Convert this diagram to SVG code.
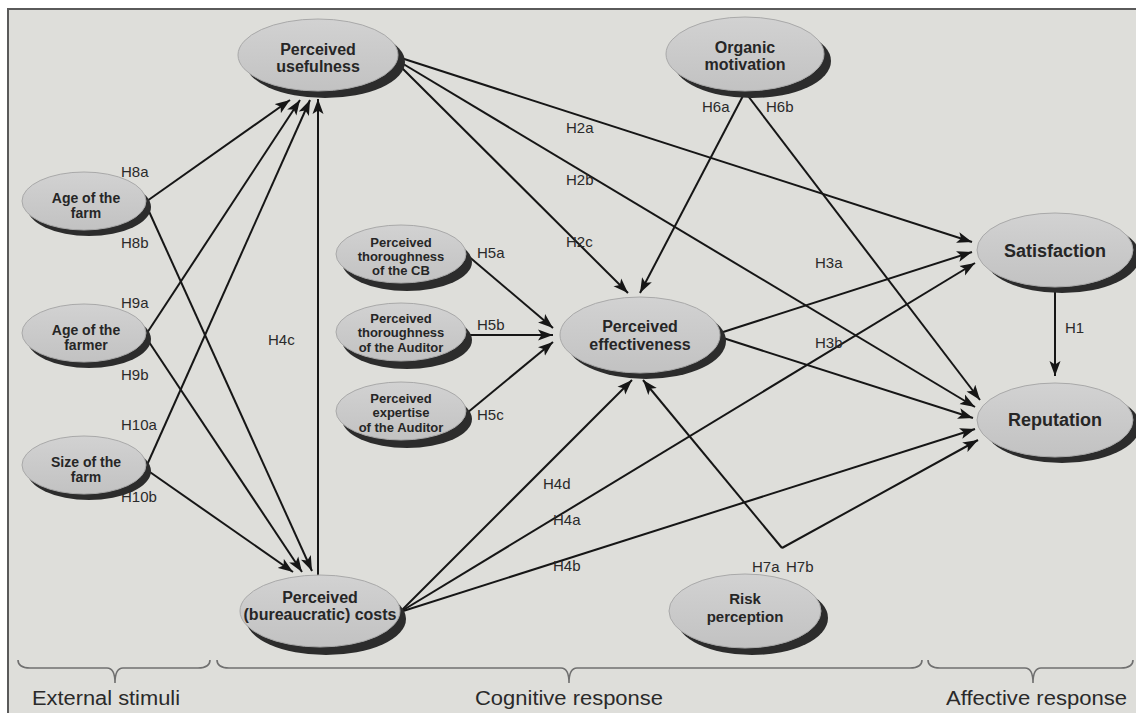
<svg xmlns="http://www.w3.org/2000/svg" width="1136" height="713" viewBox="0 0 1136 713">
  <defs>
    <marker id="arr" markerUnits="userSpaceOnUse" markerWidth="16" markerHeight="12" refX="15" refY="6" orient="auto">
      <path d="M0,0.5 L15,6 L0,11.5 L3.5,6 z" fill="#161616"/>
    </marker>
    <linearGradient id="fillG" x1="0" y1="0" x2="0" y2="1">
      <stop offset="0" stop-color="#d2d2d2"/>
      <stop offset="1" stop-color="#c2c2c2"/>
    </linearGradient>
  </defs>
  <style>
    .bg { fill: #dededa; stroke: #5a5a5a; stroke-width: 2; }
    .shadow { fill: #2c2c2c; }
    .oval { fill: url(#fillG); stroke: #a9a9a9; stroke-width: 1; }
    .n { font-family: "Liberation Sans", Arial, sans-serif; font-weight: bold; fill: #262626; text-anchor: middle; }
    .lbl { font-family: "Liberation Sans", Arial, sans-serif; font-size: 15px; fill: #2a2a2a; }
    .edge { stroke: #161616; stroke-width: 2; fill: none; }
    .arrow { marker-end: url(#arr); }
    .brace { stroke: #707070; stroke-width: 1.6; fill: none; }
    .zone { font-family: "Liberation Sans", Arial, sans-serif; font-size: 20px; fill: #2a2a2a; }
  </style>

  <!-- page -->
  <rect x="0" y="0" width="1136" height="713" fill="#ffffff"/>
  <rect class="bg" x="8" y="9" width="1140" height="712"/>

  <!-- connectors -->
  <g id="connectors">
    <!-- external stimuli to usefulness / costs -->
    <line class="edge arrow" x1="147" y1="201" x2="290" y2="100"/>
    <line class="edge arrow" x1="147" y1="207" x2="312" y2="571"/>
    <line class="edge arrow" x1="147" y1="333" x2="300" y2="100"/>
    <line class="edge arrow" x1="147" y1="339" x2="302" y2="572"/>
    <line class="edge arrow" x1="147" y1="465" x2="310" y2="100"/>
    <line class="edge arrow" x1="147" y1="470" x2="293" y2="572"/>
    <!-- costs to usefulness -->
    <line class="edge arrow" x1="318" y1="576" x2="318" y2="99"/>
    <!-- usefulness outcomes -->
    <line class="edge arrow" x1="398" y1="57" x2="972" y2="242"/>
    <line class="edge arrow" x1="400" y1="62" x2="975" y2="407"/>
    <line class="edge arrow" x1="402" y1="68" x2="628" y2="293"/>
    <!-- organic motivation -->
    <line class="edge arrow" x1="745" y1="92" x2="640" y2="293"/>
    <line class="edge arrow" x1="745" y1="92" x2="980" y2="400"/>
    <!-- thoroughness / expertise -->
    <line class="edge arrow" x1="467" y1="255" x2="553" y2="328"/>
    <line class="edge arrow" x1="467" y1="335" x2="553" y2="335"/>
    <line class="edge arrow" x1="467" y1="413" x2="553" y2="342"/>
    <!-- effectiveness outcomes -->
    <line class="edge arrow" x1="720" y1="333" x2="972" y2="252"/>
    <line class="edge arrow" x1="720" y1="337" x2="973" y2="418"/>
    <!-- costs outcomes -->
    <line class="edge arrow" x1="400" y1="612" x2="632" y2="380"/>
    <line class="edge arrow" x1="400" y1="612" x2="975" y2="263"/>
    <line class="edge arrow" x1="400" y1="612" x2="975" y2="429"/>
    <!-- risk perception -->
    <line class="edge arrow" x1="782" y1="548" x2="643" y2="380"/>
    <line class="edge arrow" x1="782" y1="548" x2="978" y2="440"/>
    <!-- satisfaction to reputation -->
    <line class="edge arrow" x1="1055" y1="288" x2="1055" y2="376"/>

    <text class="lbl" x="121" y="177">H8a</text>
    <text class="lbl" x="121" y="248">H8b</text>
    <text class="lbl" x="121" y="308">H9a</text>
    <text class="lbl" x="121" y="380">H9b</text>
    <text class="lbl" x="121" y="430">H10a</text>
    <text class="lbl" x="121" y="502">H10b</text>
    <text class="lbl" x="268" y="345">H4c</text>
    <text class="lbl" x="566" y="133">H2a</text>
    <text class="lbl" x="566" y="185">H2b</text>
    <text class="lbl" x="566" y="247">H2c</text>
    <text class="lbl" x="702" y="112">H6a</text>
    <text class="lbl" x="766" y="112">H6b</text>
    <text class="lbl" x="477" y="258">H5a</text>
    <text class="lbl" x="477" y="330">H5b</text>
    <text class="lbl" x="477" y="420">H5c</text>
    <text class="lbl" x="815" y="268">H3a</text>
    <text class="lbl" x="815" y="348">H3b</text>
    <text class="lbl" x="543" y="489">H4d</text>
    <text class="lbl" x="553" y="525">H4a</text>
    <text class="lbl" x="553" y="571">H4b</text>
    <text class="lbl" x="752" y="572">H7a</text>
    <text class="lbl" x="786" y="572">H7b</text>
    <text class="lbl" x="1065" y="333">H1</text>
  </g>

  <!-- nodes -->
  <g id="perceived-usefulness">
    <ellipse class="shadow" cx="325" cy="62" rx="80" ry="36"/>
    <ellipse class="oval" cx="318" cy="55" rx="80" ry="36"/>
    <text class="n" font-size="16" x="318" y="55">Perceived</text>
    <text class="n" font-size="16" x="318" y="72">usefulness</text>
  </g>
  <g id="organic-motivation">
    <ellipse class="shadow" cx="752" cy="61" rx="79" ry="37"/>
    <ellipse class="oval" cx="745" cy="54" rx="79" ry="37"/>
    <text class="n" font-size="16" x="745" y="53">Organic</text>
    <text class="n" font-size="16" x="745" y="70">motivation</text>
  </g>
  <g id="age-farm">
    <ellipse class="shadow" cx="89" cy="207" rx="62" ry="29"/>
    <ellipse class="oval" cx="84" cy="201" rx="62" ry="29"/>
    <text class="n" font-size="14" x="86" y="203">Age of the</text>
    <text class="n" font-size="14" x="86" y="218">farm</text>
  </g>
  <g id="age-farmer">
    <ellipse class="shadow" cx="89" cy="339" rx="62" ry="29"/>
    <ellipse class="oval" cx="84" cy="333" rx="62" ry="29"/>
    <text class="n" font-size="14" x="86" y="335">Age of the</text>
    <text class="n" font-size="14" x="86" y="350">farmer</text>
  </g>
  <g id="size-farm">
    <ellipse class="shadow" cx="89" cy="471" rx="62" ry="29"/>
    <ellipse class="oval" cx="84" cy="465" rx="62" ry="29"/>
    <text class="n" font-size="14" x="86" y="467">Size of the</text>
    <text class="n" font-size="14" x="86" y="482">farm</text>
  </g>
  <g id="thoroughness-cb">
    <ellipse class="shadow" cx="407" cy="262" rx="65" ry="29"/>
    <ellipse class="oval" cx="401" cy="254" rx="65" ry="29"/>
    <text class="n" font-size="13" x="401" y="247">Perceived</text>
    <text class="n" font-size="13" x="401" y="261">thoroughness</text>
    <text class="n" font-size="13" x="401" y="275">of the CB</text>
  </g>
  <g id="thoroughness-auditor">
    <ellipse class="shadow" cx="407" cy="340" rx="65" ry="29"/>
    <ellipse class="oval" cx="401" cy="332" rx="65" ry="29"/>
    <text class="n" font-size="13" x="401" y="323">Perceived</text>
    <text class="n" font-size="13" x="401" y="337">thoroughness</text>
    <text class="n" font-size="13" x="401" y="352">of the Auditor</text>
  </g>
  <g id="expertise-auditor">
    <ellipse class="shadow" cx="407" cy="419" rx="65" ry="29"/>
    <ellipse class="oval" cx="401" cy="411" rx="65" ry="29"/>
    <text class="n" font-size="13" x="401" y="403">Perceived</text>
    <text class="n" font-size="13" x="401" y="417">expertise</text>
    <text class="n" font-size="13" x="401" y="432">of the Auditor</text>
  </g>
  <g id="perceived-effectiveness">
    <ellipse class="shadow" cx="646" cy="341" rx="80" ry="38"/>
    <ellipse class="oval" cx="640" cy="335" rx="80" ry="38"/>
    <text class="n" font-size="16" x="640" y="332">Perceived</text>
    <text class="n" font-size="16" x="640" y="350">effectiveness</text>
  </g>
  <g id="satisfaction">
    <ellipse class="shadow" cx="1062" cy="256" rx="78" ry="37"/>
    <ellipse class="oval" cx="1055" cy="250" rx="78" ry="37"/>
    <text class="n" font-size="18" x="1055" y="257">Satisfaction</text>
  </g>
  <g id="reputation">
    <ellipse class="shadow" cx="1062" cy="426" rx="78" ry="37"/>
    <ellipse class="oval" cx="1055" cy="420" rx="78" ry="37"/>
    <text class="n" font-size="18" x="1055" y="426">Reputation</text>
  </g>
  <g id="perceived-costs">
    <ellipse class="shadow" cx="326" cy="619" rx="80" ry="36"/>
    <ellipse class="oval" cx="320" cy="611" rx="80" ry="36"/>
    <text class="n" font-size="16" x="320" y="603">Perceived</text>
    <text class="n" font-size="16" x="320" y="620">(bureaucratic) costs</text>
  </g>
  <g id="risk-perception">
    <ellipse class="shadow" cx="752" cy="618" rx="76" ry="37"/>
    <ellipse class="oval" cx="745" cy="611" rx="76" ry="37"/>
    <text class="n" font-size="15" x="745" y="604">Risk</text>
    <text class="n" font-size="15" x="745" y="622">perception</text>
  </g>

  <!-- response zones -->
  <g id="zones">
    <path class="brace" d="M18,660 Q18,668 30,668 L107,668 Q115,668 115,683 Q115,668 123,668 L198,668 Q210,668 210,660"/>
    <path class="brace" d="M217,660 Q217,668 229,668 L561,668 Q569,668 569,683 Q569,668 577,668 L910,668 Q922,668 922,660"/>
    <path class="brace" d="M928,660 Q928,668 940,668 L1025,668 Q1033,668 1033,683 Q1033,668 1041,668 L1121,668 Q1133,668 1133,660"/>
    <text class="zone" x="32" y="705" textLength="148" lengthAdjust="spacingAndGlyphs">External stimuli</text>
    <text class="zone" x="475" y="705" textLength="188" lengthAdjust="spacingAndGlyphs">Cognitive response</text>
    <text class="zone" x="946" y="705" textLength="181" lengthAdjust="spacingAndGlyphs">Affective response</text>
  </g>
</svg>
